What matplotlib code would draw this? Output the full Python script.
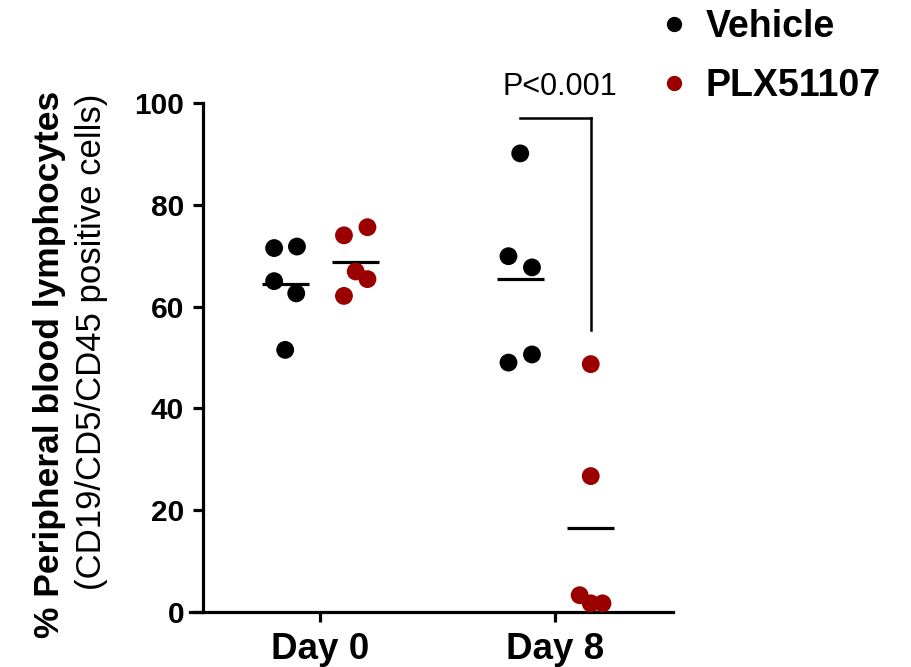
import matplotlib
matplotlib.use("Agg")
import matplotlib.pyplot as plt
from matplotlib.lines import Line2D

plt.rcParams['font.family'] = ['Liberation Sans', 'DejaVu Sans']

# --- data ---
days = ["Day 0", "Day 8"]
vehicle_day0 = [71.5, 71.8, 65.0, 62.6, 51.5]
vehicle_day8 = [90.1, 69.9, 67.7, 49.0, 50.6]
plx_day0 = [74.0, 75.6, 66.9, 65.4, 62.1]
plx_day8 = [48.7, 26.7, 3.3, 1.7, 1.7]
p_text = "P<0.001"

# small horizontal spread of the dots inside each group (scatter layout)
jit_veh0 = [-0.047, 0.05, -0.047, 0.047, 0.0]
jit_plx0 = [-0.05, 0.05, 0.0, 0.05, -0.05]
jit_veh8 = [0.0, -0.05, 0.05, -0.05, 0.05]
jit_plx8 = [0.0, 0.0, -0.047, 0.0, 0.05]

BLACK = "#000000"
RED = "#9b0000"
GROUP_OFF = 0.15
MEAN_HALF = 0.1

fig = plt.figure(figsize=(9.11, 6.67), dpi=100)
ax = fig.add_axes([190 / 911, 1 - 612 / 667, (673 - 190) / 911, (612 - 103) / 667])

groups = [
    (0, -GROUP_OFF, vehicle_day0, jit_veh0, BLACK),
    (0, GROUP_OFF, plx_day0, jit_plx0, RED),
    (1, -GROUP_OFF, vehicle_day8, jit_veh8, BLACK),
    (1, GROUP_OFF, plx_day8, jit_plx8, RED),
]
for xi, off, vals, jit, col in groups:
    cx = xi + off
    ax.scatter([cx + j for j in jit], vals, s=165, color=col, zorder=3,
               edgecolors='none', clip_on=False)
    m = sum(vals) / len(vals)
    ax.plot([cx - MEAN_HALF, cx + MEAN_HALF], [m, m], color='black', lw=2.3,
            solid_capstyle='butt', zorder=2)

# significance bracket between Day 8 groups
top = 97.1
ax.plot([1 - GROUP_OFF, 1 + GROUP_OFF], [top, top], color='black', lw=1.8,
        clip_on=False)
ax.plot([1 + GROUP_OFF, 1 + GROUP_OFF], [top, 55.4], color='black', lw=1.8,
        clip_on=False)
ax.text(1.02, 101.6, p_text, ha='center', va='baseline', fontsize=22,
        clip_on=False)

ax.set_xlim(-0.555, 1.5)
ax.set_ylim(0, 100)
ax.spines['left'].set_position(('data', -0.5))
for s in ['top', 'right']:
    ax.spines[s].set_visible(False)
for s in ['left', 'bottom']:
    ax.spines[s].set_linewidth(2.3)

ax.set_xticks([0, 1])
ax.set_xticklabels(days, fontsize=26.5, fontweight='bold')
ax.set_yticks([0, 20, 40, 60, 80, 100])
ax.set_yticklabels([str(v) for v in [0, 20, 40, 60, 80, 100]],
                   fontsize=21.5, fontweight='bold')
ax.tick_params(axis='y', length=7.5, width=2.3, pad=6)
ax.tick_params(axis='x', length=7.5, width=2.3, pad=7)

# y label in two lines
fig.text(50 / 911, 1 - 364 / 667, "% Peripheral blood lymphocytes",
         rotation=90, ha='center', va='center', fontsize=25.5,
         fontweight='bold')
fig.text(92 / 911, 1 - 342 / 667, "(CD19/CD5/CD45 positive cells)",
         rotation=90, ha='center', va='center', fontsize=25)

# legend
handles = [
    Line2D([], [], ls='none', marker='o', color=BLACK, markersize=10),
    Line2D([], [], ls='none', marker='o', color=RED, markersize=10),
]
fig.legend(handles, ["Vehicle", "PLX51107"], loc='upper left',
           bbox_to_anchor=(655 / 911, 1 - 5 / 667), frameon=False,
           prop={'size': 27, 'weight': 'bold'}, handlelength=0.8,
           handletextpad=0.45, labelspacing=0.62, borderaxespad=0,
           borderpad=0.1)

fig.savefig("out.png", dpi=100)
